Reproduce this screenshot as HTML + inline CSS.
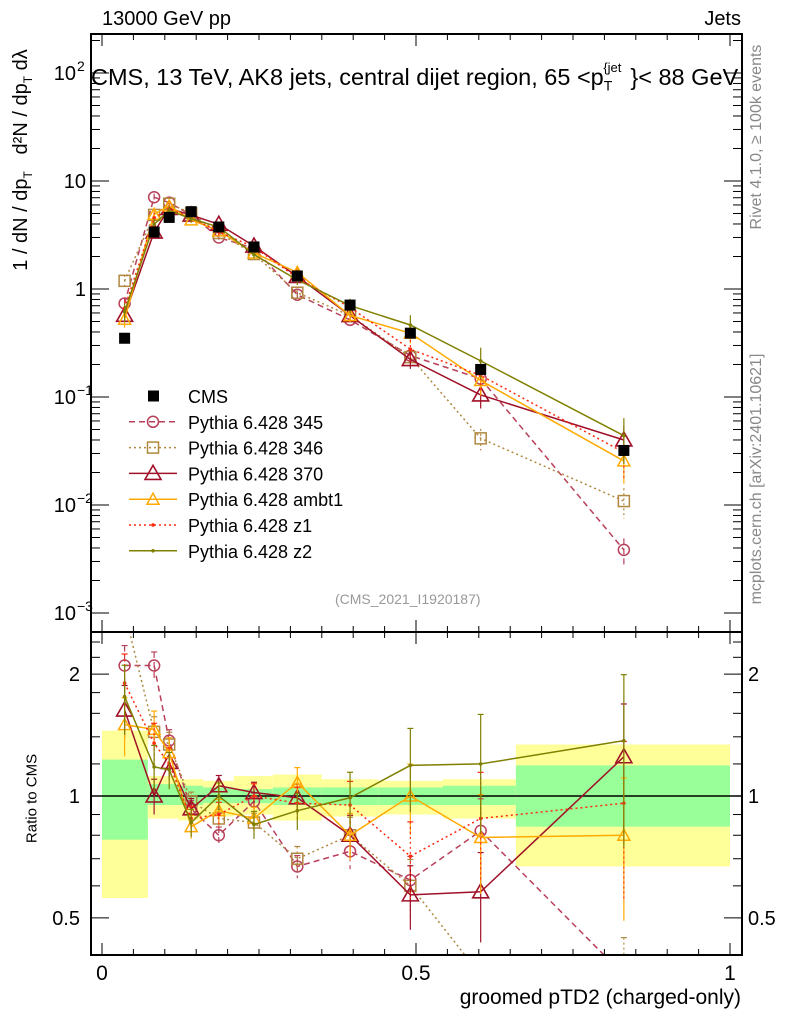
<!DOCTYPE html>
<html><head><meta charset="utf-8"><style>
html,body{margin:0;background:#fff;overflow:hidden;width:786px;height:1024px;}
svg{display:block;font-family:"Liberation Sans",sans-serif;}
</style></head><body>
<svg id="c" width="786" height="1024" viewBox="0 0 786 1024" xmlns="http://www.w3.org/2000/svg" style="position:absolute;left:0;top:0"></svg>
<script>
const xs=[0.036,0.083,0.107,0.142,0.186,0.242,0.311,0.395,0.491,0.603,0.831];
const edges=[0,0.073,0.121,0.161,0.21,0.272,0.35,0.44,0.543,0.659,1.0];
const cms=[0.35,3.37,4.6,5.2,3.75,2.45,1.32,0.71,0.39,0.18,0.032];
const statUp=[1.23,1.07,1.06,1.05,1.04,1.05,1.05,1.05,1.06,1.19];
const statDn=[0.78,0.95,0.95,0.96,0.96,0.95,0.95,0.95,0.95,0.84];
const totUp=[1.45,1.12,1.1,1.09,1.12,1.13,1.1,1.09,1.1,1.34];
const totDn=[0.56,0.88,0.87,0.89,0.9,0.87,0.89,0.9,0.88,0.67];
const r345=[2.1,2.1,1.37,0.93,0.80,0.97,0.67,0.73,0.62,0.82,0.12];
const r346=[3.4,1.44,1.34,0.97,0.88,0.86,0.70,0.80,0.60,0.23,0.34];
const r370=[1.63,1.0,1.21,0.93,1.06,1.02,0.99,0.80,0.57,0.58,1.25];
const rambt1=[1.5,1.46,1.28,0.84,0.92,0.88,1.08,0.80,1.0,0.79,0.80];
const rz1=[1.9,1.35,1.2,0.88,0.9,1.0,0.96,0.95,0.71,0.88,0.96];
const rz2=[1.76,1.18,1.16,0.86,1.0,0.85,0.92,0.99,1.19,1.2,1.37];
const relErr=[0.15,0.1,0.08,0.06,0.06,0.06,0.08,0.12,0.18,0.25,0.35];

const S=document.getElementById('c');
const NS='http://www.w3.org/2000/svg';
function el(t,a,p){const e=document.createElementNS(NS,t);for(const k in a)e.setAttribute(k,a[k]);(p||S).appendChild(e);return e;}
const X0=91,X1=742,MT=34,MB=632,RT=632,RB=955;
const px=v=>102+628*v;
const py=v=>289-108*Math.log10(v);
const ry=r=>796-405*Math.log10(r);
const clip=(v,a,b)=>Math.max(a,Math.min(b,v));

const defs=el('defs',{});
const cm=el('clipPath',{id:'cm'},defs);el('rect',{x:X0,y:MT,width:X1-X0,height:MB-MT},cm);
const cr=el('clipPath',{id:'cr'},defs);el('rect',{x:X0,y:RT,width:X1-X0,height:RB-RT},cr);

const gb=el('g',{'clip-path':'url(#cr)'});


for(let i=0;i<edges.length-1;i++){
  const y=el('rect',{x:px(edges[i]),y:ry(totUp[i]),width:px(edges[i+1])-px(edges[i]),height:ry(totDn[i])-ry(totUp[i]),fill:'#ffff99'},gb);
  
  
  const g=el('rect',{x:px(edges[i]),y:ry(statUp[i]),width:px(edges[i+1])-px(edges[i]),height:ry(statDn[i])-ry(statUp[i]),fill:'#99ff99'},gb);
  
  
}
el('line',{x1:X0,x2:X1,y1:ry(1),y2:ry(1),stroke:'#000','stroke-width':1.5});

const series=[
 {name:'345',r:r345,col:'#b8405a',dash:'6,4',mk:'circle'},
 {name:'346',r:r346,col:'#b08840',dash:'2,3',mk:'square'},
 {name:'370',r:r370,col:'#a01028',dash:'',mk:'tri'},
 {name:'ambt1',r:rambt1,col:'#ffaa00',dash:'',mk:'tri-s'},
 {name:'z1',r:rz1,col:'#ff2a10',dash:'2,3',mk:'dot'},
 {name:'z2',r:rz2,col:'#808000',dash:'',mk:'dot'}];

function marker(g,mk,x,y,col){
  if(mk==='circle')el('circle',{cx:x,cy:y,r:5.5,fill:'none',stroke:col,'stroke-width':1.5},g);
  else if(mk==='square')el('rect',{x:x-5.5,y:y-5.5,width:11,height:11,fill:'none',stroke:col,'stroke-width':1.5},g);
  else if(mk==='tri')el('polygon',{points:`${x},${y-8} ${x-8},${y+6} ${x+8},${y+6}`,fill:'none',stroke:col,'stroke-width':1.6},g);
  else if(mk==='tri-s')el('polygon',{points:`${x},${y-6} ${x-6},${y+5} ${x+6},${y+5}`,fill:'none',stroke:col,'stroke-width':1.5},g);
  else el('circle',{cx:x,cy:y,r:1.8,fill:col},g);
}

series.forEach((s,si)=>{
  const vals=s.r.map((r,i)=>r*cms[i]);
  const gm=el('g',{'clip-path':'url(#cm)'});
  
  
  el('polyline',{points:vals.map((v,i)=>px(xs[i])+','+py(v)).join(' '),fill:'none',stroke:s.col,'stroke-width':1.5,'stroke-dasharray':s.dash},gm);
  vals.forEach((v,i)=>{const e=relErr[i]*(0.8+0.1*si);
    el('line',{x1:px(xs[i]),x2:px(xs[i]),y1:py(v*(1+e)),y2:py(Math.max(v*(1-e),1e-4)),stroke:s.col,'stroke-width':1.2,'stroke-dasharray':s.dash},gm);
    marker(gm,s.mk,px(xs[i]),py(v),s.col);});
  const gr=el('g',{'clip-path':'url(#cr)'});
  
  
  el('polyline',{points:s.r.map((r,i)=>px(xs[i])+','+clip(ry(r),RT-20,RB+20)).join(' '),fill:'none',stroke:s.col,'stroke-width':1.5,'stroke-dasharray':s.dash},gr);
  s.r.forEach((r,i)=>{const e=relErr[i]*(0.8+0.1*si)*r;
    el('line',{x1:px(xs[i]),x2:px(xs[i]),y1:ry(r+e),y2:ry(Math.max(r-e,0.05)),stroke:s.col,'stroke-width':1.2,'stroke-dasharray':s.dash},gr);
    el('line',{x1:px(xs[i])-3,x2:px(xs[i])+3,y1:ry(r+e),y2:ry(r+e),stroke:s.col,'stroke-width':1.2},gr);
    marker(gr,s.mk,px(xs[i]),ry(r),s.col);});
});

const gc=el('g',{'clip-path':'url(#cm)'});


cms.forEach((v,i)=>{const r=el('rect',{x:px(xs[i])-5.5,y:py(v)-5.5,width:11,height:11,fill:'#000'},gc);
  
  });

el('rect',{x:X0,y:MT,width:X1-X0,height:MB-MT,fill:'none',stroke:'#000','stroke-width':2});
el('rect',{x:X0,y:RT,width:X1-X0,height:RB-RT,fill:'none',stroke:'#000','stroke-width':2});

for(let v=0;v<=1.0001;v+=0.05){const maj=Math.abs(v*10-Math.round(v*10))<1e-6&&Math.round(v*10)%5===0;const L=maj?12:6;
  [[MT,1],[MB,-1],[RT,1],[RB,-1]].forEach(([y,d])=>el('line',{x1:px(v),x2:px(v),y1:y,y2:y+d*L,stroke:'#000','stroke-width':1}));}
[['0',0],['0.5',0.5],['1',1]].forEach(([t,v])=>{const e=el('text',{x:px(v),y:980,'font-size':21,'text-anchor':'middle'});e.textContent=t;
  
  });

for(let d=-3;d<=2;d++){for(let m=1;m<10;m++){const v=m*Math.pow(10,d);const y=py(v);if(y<MT||y>MB)continue;const L=m===1?18:9;
  el('line',{x1:X0,x2:X0+L,y1:y,y2:y,stroke:'#000'});el('line',{x1:X1,x2:X1-L,y1:y,y2:y,stroke:'#000'});}}
const ylab=[[2,'10','2'],[1,'10',''],[0,'1',''],[-1,'10','−1'],[-2,'10','−2'],[-3,'10','−3']];
ylab.forEach(([d,b,s])=>{const t=el('text',{x:s?76:86,y:py(Math.pow(10,d))+7,'font-size':20,'text-anchor':'end'});t.textContent=b;
  
  
  if(s){const u=el('text',{x:77,y:py(Math.pow(10,d))-2,'font-size':14});u.textContent=s;}});

[0.5,0.6,0.7,0.8,0.9,1,1.2,1.4,1.6,1.8,2,2.2,2.4].forEach(r=>{const y=ry(r);if(y<RT||y>RB)return;const L=(r===0.5||r===1||r===2)?18:9;
  el('line',{x1:X0,x2:X0+L,y1:y,y2:y,stroke:'#000'});el('line',{x1:X1,x2:X1-L,y1:y,y2:y,stroke:'#000'});});
[['2',2],['1',1],['0.5',0.5]].forEach(([t,r])=>{
  const a=el('text',{x:80,y:ry(r)+7,'font-size':20,'text-anchor':'end'});a.textContent=t;
  
  
  const b=el('text',{x:748,y:ry(r)+7,'font-size':20});b.textContent=t;
  
  });

const lg=el('g',{});


const names=['CMS','Pythia 6.428 345','Pythia 6.428 346','Pythia 6.428 370','Pythia 6.428 ambt1','Pythia 6.428 z1','Pythia 6.428 z2'];
names.forEach((n,i)=>{const y=396+25.8*i;
  const g=el('g',{},lg);
  
  
  if(i===0)el('rect',{x:148,y:y-5.5,width:11,height:11,fill:'#000'},g);
  else{const s=series[i-1];el('line',{x1:129,x2:177,y1:y,y2:y,stroke:s.col,'stroke-width':1.5,'stroke-dasharray':s.dash},g);marker(g,s.mk,153,y,s.col);}
  const t=el('text',{x:188,y:y+7,'font-size':18},g);t.textContent=n;});
</script>
<div style="position:absolute;left:0;top:0;width:786px;height:1024px;overflow:hidden;font-family:'Liberation Sans',sans-serif;pointer-events:none">
<div style="position:absolute;left:102px;top:8px;font-size:20px">13000 GeV pp</div>
<div style="position:absolute;right:45px;top:8px;font-size:20px">Jets</div>
<div style="position:absolute;left:91px;top:64px;font-size:23.5px;white-space:nowrap">CMS, 13 TeV, AK8 jets, central dijet region, 65 &lt;p<sub style="font-size:14px">T</sub><sup style="font-size:13px;position:relative;left:-9px;top:-4px">{jet</sup>}&lt; 88 GeV</div>
<div style="position:absolute;left:335px;top:591px;font-size:14px;color:#999">(CMS_2021_I1920187)</div>
<div style="position:absolute;right:45px;top:986px;font-size:21px">groomed pTD2 (charged-only)</div>
<div style="position:absolute;left:-28px;top:790px;width:120px;text-align:center;font-size:15px;transform:rotate(-90deg)">Ratio to CMS</div>
<div style="position:absolute;left:-90px;top:140px;width:240px;height:40px;transform:rotate(-90deg);font-size:20px;white-space:nowrap;text-align:center">1 / dN / dp<sub style="font-size:12px">T</sub> &nbsp; d²N / dp<sub style="font-size:12px">T</sub> dλ</div>
<div style="position:absolute;left:622px;top:128px;width:270px;text-align:center;font-size:16px;color:#888;transform:rotate(-90deg);white-space:nowrap">Rivet 4.1.0, ≥ 100k events</div>
<div style="position:absolute;left:597px;top:470px;width:320px;text-align:center;font-size:16px;color:#888;transform:rotate(-90deg);white-space:nowrap">mcplots.cern.ch [arXiv:2401.10621]</div>
</div>
</body></html>
